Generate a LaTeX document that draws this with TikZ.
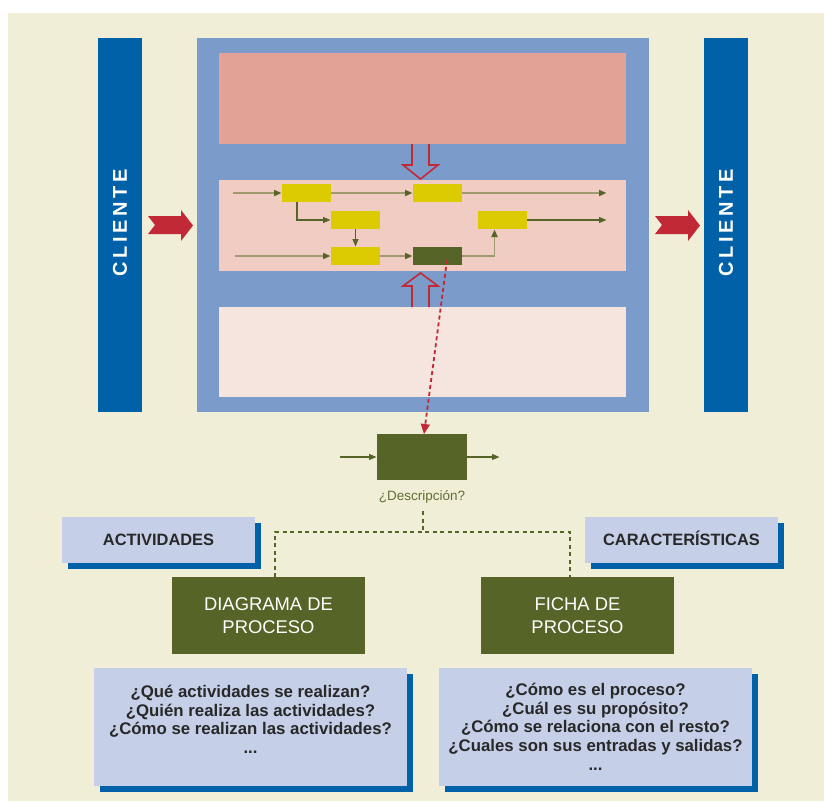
\documentclass[tikz,border=0pt]{standalone}
\usepackage{fontspec}
\setmainfont{Liberation Sans}
\newfontfamily\clientefont{Liberation Sans}[LetterSpace=18]
\usetikzlibrary{arrows.meta,calc,shadows}
\definecolor{bgcream}{RGB}{240,238,214}
\definecolor{clientblue}{RGB}{0,96,168}
\definecolor{bigblue}{RGB}{123,155,203}
\definecolor{salmon}{RGB}{226,163,150}
\definecolor{midpink}{RGB}{240,204,194}
\definecolor{lightpink}{RGB}{246,228,222}
\definecolor{actyellow}{RGB}{219,203,0}
\definecolor{olivegreen}{RGB}{86,100,39}
\definecolor{tanline}{RGB}{160,154,112}
\definecolor{arrowred}{RGB}{192,41,53}
\definecolor{paleblue}{RGB}{197,207,231}
\definecolor{textgray}{RGB}{40,40,40}
\definecolor{descgreen}{RGB}{95,110,55}
\tikzset{
  panel/.style={inner sep=0pt, outer sep=0pt, draw=none},
  sz/.style 2 args={minimum width=#1pt, minimum height=#2pt},
  actbox/.style={panel, fill=actyellow, sz={49}{18}},
  flowtip/.style={-{Triangle[length=7.5pt,width=6pt,color=olivegreen]}, shorten >=0.5pt},
  tanflow/.style={flowtip, draw=tanline, line width=1.8pt},
  oliveflow/.style={flowtip, draw=olivegreen, line width=1.1pt},
  hollow/.style={draw=arrowred, line width=1.6pt, line join=miter},
  chevron/.style={fill=arrowred},
  bluelabel/.style={panel, fill=paleblue, sz={193}{46}, text=textgray,
    font=\fontsize{16.4}{18}\selectfont\bfseries, text height=11.7pt, text depth=0pt,
    general shadow={fill=clientblue, shadow xshift=6pt, shadow yshift=-6pt}},
  greenbox/.style={panel, fill=olivegreen, sz={193}{77}, text=white, align=center,
    font=\fontsize{18.4}{23.5}\selectfont},
  qbox/.style={panel, fill=paleblue, sz={313}{118},
    general shadow={fill=clientblue, shadow xshift=6pt, shadow yshift=-6pt}},
  qtext/.style={panel, text=textgray, align=center, anchor=north,
    font=\fontsize{16.8}{18.7}\selectfont\bfseries},
  dashgreen/.style={draw=olivegreen, line width=1.8pt, dash pattern=on 4pt off 3.5pt},
  clientebar/.style={panel, fill=clientblue, rotate=90, sz={374}{44}, text=white,
    font=\fontsize{20}{24}\selectfont\clientefont\bfseries}
}
\begin{document}
\begin{tikzpicture}[x=1pt,y=-1pt]
\useasboundingbox (0,0) rectangle (824,801);
\fill[white] (0,0) rectangle (824,801);
\fill[bgcream] (8,13) rectangle (824,801);

% client bars
\node[clientebar] (clL) at (120,225) {CLIENTE\kern-3.6pt};
\node[clientebar] (clR) at (726,225) {CLIENTE\kern-3.6pt};

% process panel
\node[panel, fill=bigblue, sz={452}{374}] (proc) at (423,225) {};
\node[panel, fill=salmon, sz={407}{91}] (topb) at (422.5,98.5) {};
\node[panel, fill=midpink, sz={407}{91}] (midb) at (422.5,225.5) {};
\node[panel, fill=lightpink, sz={407}{90}] (botb) at (422.5,352) {};

% hollow arrows
\draw[hollow] (412,144) -- (412,165) -- (403,165) -- (420.5,179) -- (438,165) -- (429,165) -- (429,144);
\draw[hollow] (412,307) -- (412,286) -- (403,286) -- (420.5,273) -- (438,286) -- (429,286) -- (429,307);

% chevrons
\fill[chevron] (148,216) -- (181,216) -- (181,210) -- (193,225.5) -- (181,241) -- (181,234) -- (148,234) -- (155,225) -- cycle;
\fill[chevron] (655,216) -- (688,216) -- (688,210) -- (700,225.5) -- (688,241) -- (688,234) -- (655,234) -- (662,225) -- cycle;

% activity boxes
\node[actbox] (y1) at (306.5,193) {};
\node[actbox] (y2) at (437.5,193) {};
\node[actbox] (y3) at (355.5,220) {};
\node[actbox] (y4) at (502.5,220) {};
\node[actbox] (y5) at (355.5,256) {};
\node[actbox, fill=olivegreen] (dk) at (437.5,256) {};

\coordinate (in1) at (233,193);
\coordinate (out1) at (607,193);
\coordinate (out2) at (607,220);
\coordinate (in3) at (235,256);

\draw[tanflow] (in1) -- (y1.west);
\draw[tanflow] (y1.east) -- (y2.west);
\draw[tanflow] (y2.east) -- (out1);
\draw[oliveflow] (y1.south west) ++(15,0) |- (y3.west);
\draw[oliveflow] (y3.south) -- (y5.north);
\draw[tanflow] (in3) -- (y5.west);
\draw[tanflow] (y5.east) -- (dk.west);
\draw[tanflow] (dk.east) -| ($(y4.south west)+(16.5,0)$);
\draw[oliveflow] (y4.east) -- (out2);

% detail box
\node[panel, fill=olivegreen, sz={90}{46}] (gb) at (422,457) {};
\coordinate (gin) at (340,457);
\coordinate (gout) at (500,457);
\draw[oliveflow] (gin) -- (gb.west);
\draw[oliveflow] (gb.east) -- (gout);

\draw[draw=arrowred, line width=1.8pt, dash pattern=on 4pt off 3pt,
  -{Triangle[length=10pt,width=9pt,color=arrowred]}] ($(dk.center)+(9.5,4)$) -- ($(gb.north)+(2,0)$);

\node[panel, anchor=base, text=descgreen, font=\fontsize{13.5}{16}\selectfont] (desc) at (422,500) {¿Descripción?};

% labels
\node[bluelabel] (act) at (158.5,540) {ACTIVIDADES};
\node[bluelabel] (car) at (681.5,540) {CARACTERÍSTICAS};

\node[greenbox] (dp) at (268.5,615.5) {DIAGRAMA DE\\PROCESO};
\node[greenbox] (fp) at (577.5,615.5) {FICHA DE\\PROCESO};

\coordinate (dj) at (423,532);
\draw[dashgreen] (423,511) -- (dj);
\draw[dashgreen] ($(dp.north)+(6.5,0)$) |- (dj) -| ($(fp.north)+(-7.5,0)$);

% question boxes
\node[qbox] (ql) at (250.5,727) {};
\node[qbox] (qr) at (595.5,727) {};
\node[qtext] (qlt) at (250.5,685) {¿Qué actividades se realizan?\\¿Quién realiza las actividades?\\¿Cómo se realizan las actividades?\\...};
\node[qtext] (qrt) at (595.5,683) {¿Cómo es el proceso?\\¿Cuál es su propósito?\\¿Cómo se relaciona con el resto?\\¿Cuales son sus entradas y salidas?\\...};
\end{tikzpicture}
\end{document}
